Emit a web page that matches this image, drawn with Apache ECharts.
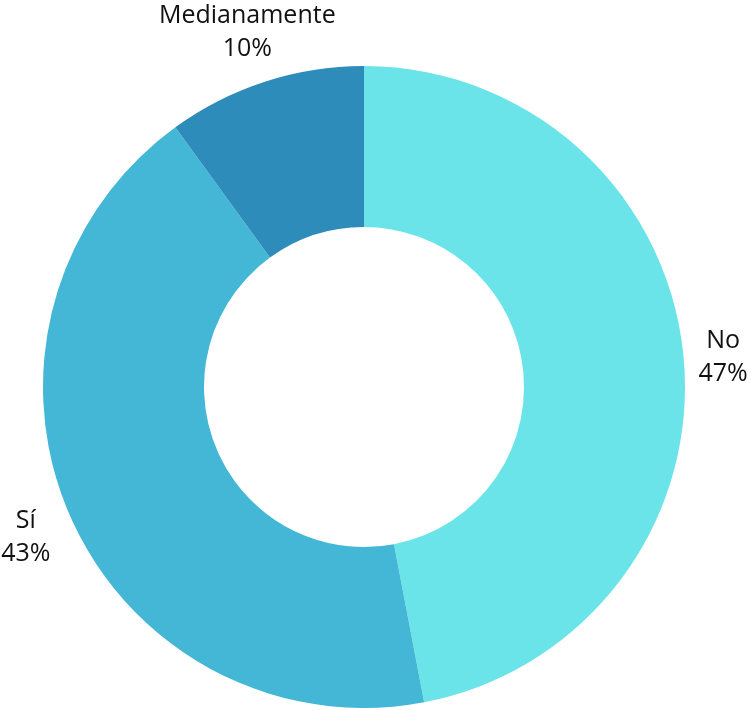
<!DOCTYPE html>
<html>
<head>
<meta charset="utf-8">
<script src="https://cdn.jsdelivr.net/npm/echarts@6/dist/echarts.min.js"></script>
<style>
html,body{margin:0;padding:0;background:#fff;}
#chart{width:751px;height:710px;}
</style>
</head>
<body>
<div id="chart"></div>
<script>
var categories = ['No', 'Sí', 'Medianamente'];
var values = [47, 43, 10];
var colors = ['#6ae4e8', '#43b7d5', '#2e8cba'];

var chart = echarts.init(document.getElementById('chart'), null, {renderer: 'canvas'});
var LABEL_GAP = 15;
var LABEL_SHIFT_Y = 4;
var LOWER_EXTRA = 16;

chart.setOption({
  animation: false,
  color: colors,
  series: [{
    type: 'pie',
    center: [364, 387],
    radius: [160, 321],
    startAngle: 90,
    clockwise: true,
    avoidLabelOverlap: false,
    itemStyle: {borderWidth: 0},
    label: {
      show: true,
      position: 'outside',
      formatter: function (p) { return p.name + '\n' + p.value + '%'; },
      fontFamily: 'Open Sans',
      fontSize: 25,
      lineHeight: 33,
      color: '#111111',
      align: 'center'
    },
    labelLine: {show: true, length: 10, length2: 0, lineStyle: {opacity: 0, width: 0}},
    emphasis: {disabled: true},
    labelLayout: function (p) {
      var pts = p.labelLinePoints;
      if (!pts || pts.length < 2) return {};
      var x0 = pts[0][0], y0 = pts[0][1], x1 = pts[1][0], y1 = pts[1][1];
      var len = Math.sqrt((x1 - x0) * (x1 - x0) + (y1 - y0) * (y1 - y0)) || 1;
      var ux = (x1 - x0) / len, uy = (y1 - y0) / len;
      var w = p.labelRect.width, h = p.labelRect.height;
      var ex = ux * w / 2, ey = uy * h / 2;
      var d = LABEL_GAP + Math.sqrt(ex * ex + ey * ey) + LOWER_EXTRA * Math.max(0, uy);
      return {x: x0 + ux * d, y: y0 + uy * d + LABEL_SHIFT_Y, align: 'center', verticalAlign: 'middle'};
    },
    data: categories.map(function (c, i) { return {name: c, value: values[i]}; })
  }]
});
</script>
</body>
</html>
